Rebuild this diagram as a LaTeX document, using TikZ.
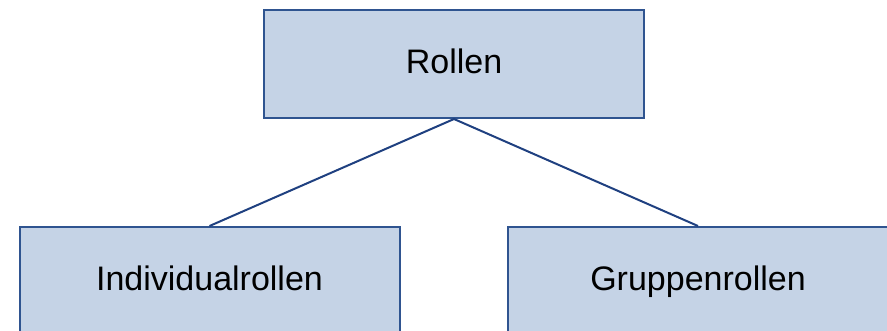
\documentclass[tikz,border=0pt]{standalone}
\usepackage{fontspec}
\setmainfont{Liberation Sans}
\definecolor{boxfill}{HTML}{C5D3E6}
\definecolor{boxdraw}{HTML}{2F5490}
\definecolor{linkcol}{HTML}{1F4080}
\begin{document}
\begin{tikzpicture}[x=1pt,y=-1pt,
  rolebox/.style={draw=boxdraw,fill=boxfill,line width=2pt,minimum width=380pt,minimum height=108pt,inner sep=0pt,text height=25pt,text depth=7pt,font=\fontsize{34}{40}\selectfont,text=black},
  link/.style={draw=linkcol,line width=2pt}]
\useasboundingbox (0,0) rectangle (887,330);
\clip (0,0) rectangle (887,330);
\node[rolebox] (top) at (454,64) {Rollen};
\node[rolebox] (left) at (209.5,281) {Individualrollen};
\node[rolebox] (right) at (698,281) {Gruppenrollen};
\draw[link] (top.south) -- (left.north);
\draw[link] (top.south) -- (right.north);
\end{tikzpicture}
\end{document}
